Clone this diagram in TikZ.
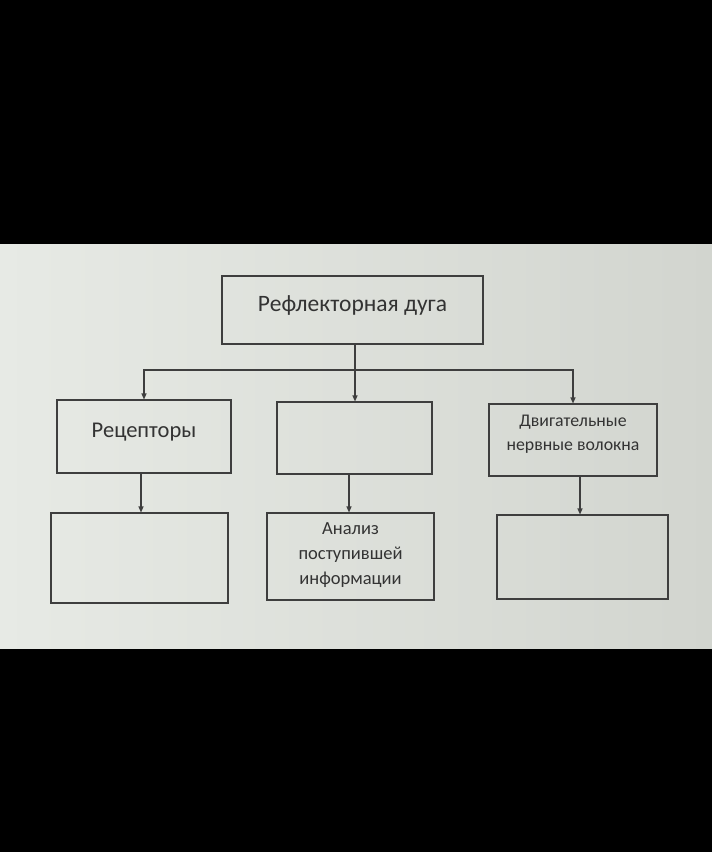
\documentclass[tikz,border=0pt]{standalone}
\usepackage{fontspec}
\setmainfont{Carlito}
\usetikzlibrary{arrows.meta}
\definecolor{ink}{HTML}{333333}
\definecolor{lineink}{HTML}{3E3E3E}
\definecolor{bgl}{HTML}{E7EAE5}
\definecolor{bgr}{HTML}{D2D5CF}
\begin{document}
\begin{tikzpicture}[x=1pt,y=-1pt,
  box/.style={draw=lineink,line width=1.1pt,rectangle,inner sep=0pt},
  lbl/.style={text=ink,align=center,inner sep=0pt},
  conn/.style={draw=lineink,line width=1.1pt},
  arr/.style={conn,-{Triangle[length=6pt,width=5pt]}}]
\fill[black] (0,0) rectangle (712,852);
\useasboundingbox (0,0) rectangle (712,852);
\shade[left color=bgl,right color=bgr] (0,244) rectangle (712,648);
% boxes
\node[box,minimum width=261pt,minimum height=68pt] (t) at (352.5,310) {};
\node[box,minimum width=174pt,minimum height=73pt] (l1) at (144,436.5) {};
\node[box,minimum width=155pt,minimum height=72pt] (m1) at (354.5,438) {};
\node[box,minimum width=168pt,minimum height=72pt] (r1) at (573,440) {};
\node[box,minimum width=177pt,minimum height=90pt] (l2) at (139.5,558) {};
\node[box,minimum width=167pt,minimum height=87pt] (m2) at (350.5,556.5) {};
\node[box,minimum width=171pt,minimum height=84pt] (r2) at (582.5,557) {};
% labels
\node[lbl,font=\fontsize{23.5}{28}\selectfont] (tl) at (352.5,305) {Рефлекторная дуга};
\node[lbl,font=\fontsize{22.5}{28}\selectfont] (l1l) at (144,432) {Рецепторы};
\node[lbl,font=\fontsize{17.8}{24}\selectfont] (r1l) at (573,434) {Двигательные\\нервные волокна};
\node[lbl,font=\fontsize{18.5}{25}\selectfont] (m2l) at (350.5,555) {Анализ\\поступившей\\информации};
% connectors
\coordinate (j) at (355,370);
\draw[conn] (j |- t.south) -- (j);
\draw[arr] (j) -| (l1.north);
\draw[arr] (j) -- (j |- m1.north);
\draw[arr] (j) -| (r1.north);
\draw[arr] ([xshift=-3pt]l1.south) -- ([xshift=-3pt]l1.south |- l2.north);
\draw[arr] ([xshift=-5.5pt]m1.south) -- ([xshift=-5.5pt]m1.south |- m2.north);
\draw[arr] ([xshift=7pt]r1.south) -- ([xshift=7pt]r1.south |- r2.north);
\end{tikzpicture}
\end{document}
